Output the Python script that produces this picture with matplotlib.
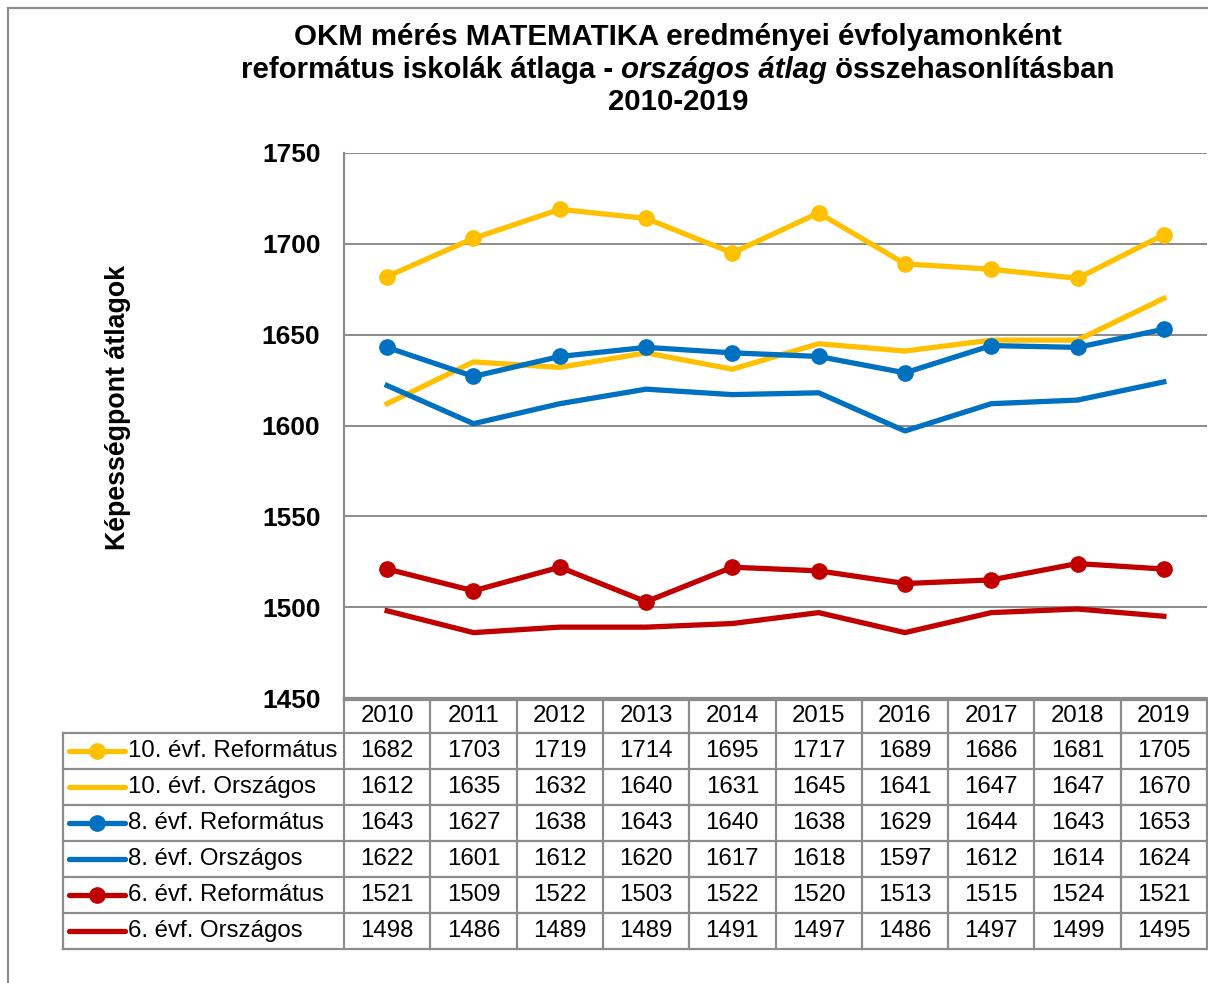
import matplotlib
matplotlib.use("Agg")
import matplotlib.pyplot as plt
from matplotlib.lines import Line2D
from matplotlib.patches import Rectangle
from matplotlib.transforms import blended_transform_factory

plt.rcParams['font.family'] = ['Liberation Sans', 'DejaVu Sans']

years = ['2010', '2011', '2012', '2013', '2014', '2015', '2016', '2017', '2018', '2019']
ref10 = [1682, 1703, 1719, 1714, 1695, 1717, 1689, 1686, 1681, 1705]
nat10 = [1612, 1635, 1632, 1640, 1631, 1645, 1641, 1647, 1647, 1670]
ref8 = [1643, 1627, 1638, 1643, 1640, 1638, 1629, 1644, 1643, 1653]
nat8 = [1622, 1601, 1612, 1620, 1617, 1618, 1597, 1612, 1614, 1624]
ref6 = [1521, 1509, 1522, 1503, 1522, 1520, 1513, 1515, 1524, 1521]
nat6 = [1498, 1486, 1489, 1489, 1491, 1497, 1486, 1497, 1499, 1495]
series_names = ['10. évf. Református', '10. évf. Országos', '8. évf. Református',
                '8. évf. Országos', '6. évf. Református', '6. évf. Országos']
yticks = [1450, 1500, 1550, 1600, 1650, 1700, 1750]

YEL, BLU, RED = '#FFC000', '#0070C0', '#C00000'
series = [(ref10, YEL, True), (nat10, YEL, False), (ref8, BLU, True),
          (nat8, BLU, False), (ref6, RED, True), (nat6, RED, False)]

W, H = 1208, 983
fig = plt.figure(figsize=(W / 100, H / 100), dpi=100)
fig.patch.set_facecolor('white')

def fx(x):
    return x / W

def fy(y):
    return 1 - y / H

GRID = '#8c8c8c'
TFS = 17.3
# outer frame
fig.add_artist(Rectangle((fx(8), fy(1100)), fx(1300 - 8), fy(8) - fy(1100),
                         transform=fig.transFigure, fill=False, edgecolor='#8c8c8c', lw=1.6))

L, R, T, B = 344, 1207, 153, 698
ax = fig.add_axes([fx(L), fy(B), fx(R) - fx(L), fy(T) - fy(B)])
x = list(range(len(years)))
for vals, col, mk in series:
    if mk:
        ax.plot(x, vals, color=col, lw=3.8, marker='o', ms=11, solid_joinstyle='round', zorder=3)
    else:
        ax.plot(x, vals, color=col, lw=3.8, solid_joinstyle='round', zorder=3)
ax.set_xlim(-0.5, len(years) - 0.5)
ax.set_ylim(1450, 1750)
ax.set_yticks(yticks)
ax.set_yticklabels([str(v) for v in yticks], fontsize=19, fontweight='bold')
ax.tick_params(axis='y', length=0, pad=17)
ax.set_xticks([])
ax.grid(axis='y', color=GRID, lw=1.4)
ax.set_axisbelow(True)
for s in ['top', 'right']:
    ax.spines[s].set_visible(False)
ax.spines['left'].set_color(GRID)
ax.spines['left'].set_linewidth(1.6)
ax.spines['bottom'].set_color(GRID)
ax.spines['bottom'].set_linewidth(1.6)

fig.text(fx(118), fy(408), 'Képességpont átlagok', rotation=90, fontsize=19.3,
         fontweight='bold', ha='center', va='center')

# data table
tr = blended_transform_factory(ax.transData, fig.transFigure)
hdr_top, row0, rh = 700, 733, 36
nrows = len(series)
tbl_bot = row0 + nrows * rh
LEG_L = 63
def hline(x0, x1, y):
    fig.add_artist(Line2D([fx(x0), fx(x1)], [fy(y), fy(y)], transform=fig.transFigure,
                          color=GRID, lw=1.6))
def vline(xx, y0, y1):
    fig.add_artist(Line2D([fx(xx), fx(xx)], [fy(y0), fy(y1)], transform=fig.transFigure,
                          color=GRID, lw=1.6))
hline(L, R, hdr_top)
hline(LEG_L, R, row0)
for i in range(1, nrows + 1):
    hline(LEG_L, R, row0 + i * rh)
vline(LEG_L, row0, tbl_bot)
for i in range(len(years) + 1):
    xpix = L + (R - L) * i / len(years)
    vline(xpix, hdr_top, tbl_bot)

for j, yr in enumerate(years):
    fig.text(j, fy((hdr_top + row0) / 2), yr, transform=tr, ha='center', va='center', fontsize=TFS)
for i, ((vals, col, mk), name) in enumerate(zip(series, series_names)):
    yc = fy(row0 + rh * i + rh / 2)
    for j, v in enumerate(vals):
        fig.text(j, yc, str(v), transform=tr, ha='center', va='center', fontsize=TFS)
    fig.add_artist(Line2D([fx(69), fx(125)], [yc, yc], transform=fig.transFigure,
                          color=col, lw=3.8, solid_capstyle='round'))
    if mk:
        fig.add_artist(Line2D([fx(97)], [yc], transform=fig.transFigure, color=col,
                              marker='o', ms=11, lw=0))
    fig.text(fx(128), yc, name, ha='left', va='center', fontsize=TFS)

# title
TS = 21.2
fig.text(fx(678), fy(37), 'OKM mérés MATEMATIKA eredményei évfolyamonként',
         ha='center', va='center', fontsize=TS, fontweight='bold')
fig.text(fx(678), fy(102), '2010-2019', ha='center', va='center', fontsize=TS, fontweight='bold')
fig.canvas.draw()
r = fig.canvas.get_renderer()
parts = [('református iskolák átlaga - ', 'normal'), ('országos átlag', 'italic'),
         (' összehasonlításban', 'normal')]
tmp = [fig.text(0, 0, p, fontsize=TS, fontweight='bold', style=st) for p, st in parts]
widths = [t.get_window_extent(r).width for t in tmp]
for t in tmp:
    t.remove()
total = sum(widths)
xstart = 678 - total / 2
for (p, st), w in zip(parts, widths):
    fig.text(fx(xstart), fy(70), p, ha='left', va='center', fontsize=TS,
             fontweight='bold', style=st)
    xstart += w

fig.savefig('out.png', dpi=100, facecolor='white')
